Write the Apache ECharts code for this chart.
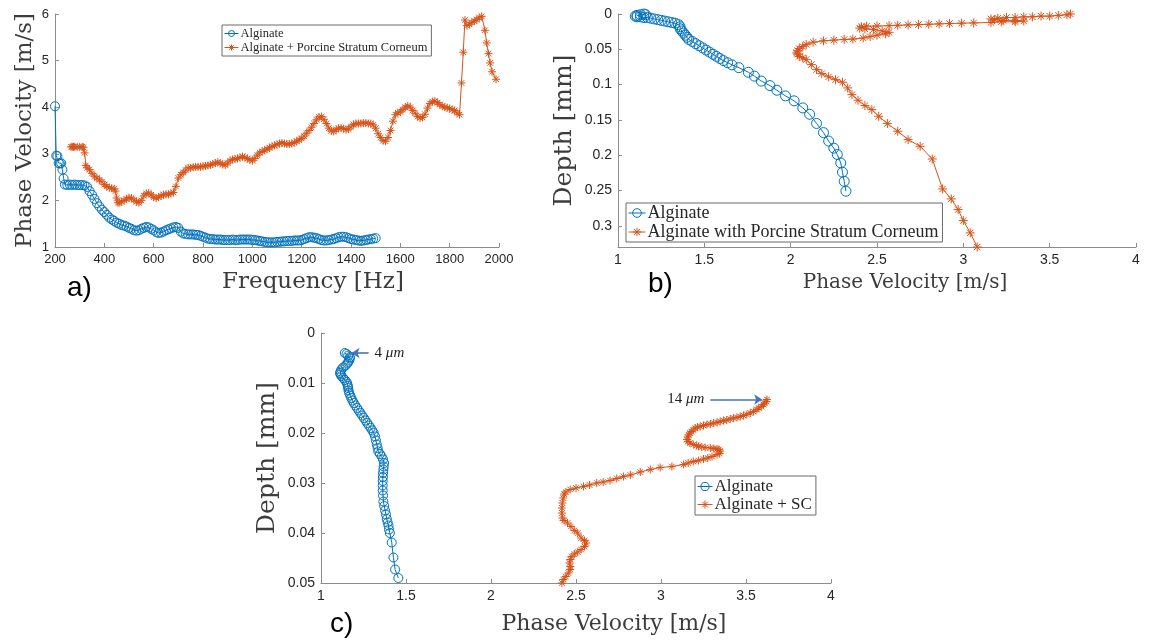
<!DOCTYPE html>
<html>
<head>
<meta charset="utf-8">
<script src="https://cdn.jsdelivr.net/npm/echarts@6/dist/echarts.min.js"></script>
<style>
html, body { margin: 0; padding: 0; background: #fff; }
#chart { width: 1149px; height: 641px; }
</style>
</head>
<body>
<div id="chart"></div>
<script>
// a) phase velocity vs frequency : [Hz, m/s]
var aAlginate = [
	[200,4.02],[205,2.96],[210,2.95],[215,2.80],[220,2.79],[225,2.80],[230,2.66],[235,2.47],[240,2.34],
	[250,2.33],[260,2.34],[270,2.33],[280,2.34],[290,2.33],[300,2.33],[310,2.33],[320,2.32],[330,2.29],
	[340,2.20],[350,2.12],[360,2.03],[370,1.94],[380,1.87],[390,1.80],[400,1.75],[410,1.69],[420,1.63],
	[430,1.59],[440,1.56],[450,1.52],[460,1.50],[470,1.47],[480,1.46],[490,1.44],[500,1.41],[510,1.39],
	[520,1.36],[530,1.35],[540,1.36],[550,1.39],[560,1.41],[570,1.43],[580,1.42],[590,1.39],[600,1.36],
	[610,1.32],[620,1.30],[630,1.31],[640,1.33],[650,1.36],[660,1.38],[670,1.40],[680,1.42],[690,1.43],
	[700,1.41],[710,1.33],[720,1.29],[730,1.28],[740,1.27],[750,1.27],[760,1.27],[770,1.26],[780,1.26],
	[790,1.24],[800,1.22],[810,1.20],[820,1.18],[830,1.17],[840,1.17],[850,1.16],[860,1.16],[870,1.16],
	[880,1.15],[890,1.15],[900,1.15],[910,1.15],[920,1.16],[930,1.15],[940,1.15],[950,1.16],[960,1.16],
	[970,1.16],[980,1.16],[990,1.16],[1000,1.15],[1010,1.15],[1020,1.14],[1030,1.13],[1040,1.12],
	[1050,1.11],[1060,1.10],[1070,1.10],[1080,1.10],[1090,1.10],[1100,1.11],[1110,1.11],[1120,1.12],
	[1130,1.12],[1140,1.13],[1150,1.13],[1160,1.13],[1170,1.14],[1180,1.14],[1190,1.14],[1200,1.15],
	[1210,1.17],[1220,1.19],[1230,1.21],[1240,1.21],[1250,1.20],[1260,1.19],[1270,1.17],[1280,1.15],
	[1290,1.14],[1300,1.14],[1310,1.15],[1320,1.16],[1330,1.17],[1340,1.19],[1350,1.21],[1360,1.22],
	[1370,1.22],[1380,1.21],[1390,1.19],[1400,1.17],[1410,1.16],[1420,1.15],[1430,1.14],[1440,1.13],
	[1450,1.14],[1460,1.15],[1470,1.16],[1480,1.17],[1490,1.18],[1500,1.19]
];
var aWithSC = [
	[265,3.15],[270,3.15],[275,3.15],[280,3.15],[290,3.15],[300,3.15],[310,3.15],[315,3.14],[320,3.02],
	[325,2.75],[330,2.70],[340,2.66],[350,2.58],[360,2.52],[370,2.48],[380,2.44],[390,2.40],[400,2.34],
	[410,2.30],[420,2.27],[430,2.26],[440,2.25],[445,2.20],[450,2.05],[455,1.95],[460,1.95],[470,1.97],
	[480,2.00],[490,2.03],[500,2.06],[510,2.05],[520,2.01],[530,1.97],[540,1.95],[550,2.00],[560,2.10],
	[570,2.15],[580,2.16],[590,2.12],[600,2.07],[610,2.05],[620,2.07],[630,2.10],[640,2.12],[650,2.13],
	[660,2.13],[670,2.15],[680,2.17],[690,2.30],[700,2.48],[710,2.55],[720,2.60],[730,2.65],[740,2.70],
	[750,2.70],[760,2.71],[770,2.72],[780,2.72],[790,2.72],[800,2.73],[810,2.74],[820,2.75],[830,2.76],
	[840,2.78],[850,2.80],[860,2.82],[870,2.80],[880,2.77],[890,2.76],[900,2.80],[910,2.85],[920,2.88],
	[930,2.89],[940,2.90],[950,2.92],[960,2.94],[970,2.92],[980,2.90],[990,2.87],[1000,2.85],[1010,2.90],
	[1020,2.97],[1030,3.02],[1040,3.05],[1050,3.08],[1060,3.10],[1070,3.13],[1080,3.16],[1090,3.18],
	[1100,3.20],[1110,3.22],[1120,3.23],[1130,3.22],[1140,3.21],[1150,3.21],[1160,3.22],[1170,3.24],
	[1180,3.27],[1190,3.30],[1200,3.33],[1210,3.38],[1220,3.44],[1230,3.50],[1240,3.57],[1250,3.65],
	[1260,3.73],[1270,3.79],[1280,3.80],[1290,3.74],[1300,3.65],[1310,3.55],[1320,3.49],[1330,3.48],
	[1340,3.52],[1350,3.55],[1360,3.55],[1370,3.54],[1380,3.52],[1390,3.53],[1400,3.58],[1410,3.63],
	[1420,3.65],[1430,3.65],[1440,3.65],[1450,3.66],[1460,3.66],[1470,3.65],[1480,3.65],[1490,3.62],
	[1500,3.55],[1510,3.43],[1520,3.35],[1530,3.28],[1540,3.27],[1550,3.35],[1560,3.50],[1570,3.70],
	[1580,3.84],[1590,3.88],[1600,3.90],[1610,3.95],[1620,4.00],[1630,4.03],[1640,4.00],[1650,3.93],
	[1660,3.87],[1670,3.80],[1680,3.77],[1690,3.78],[1700,3.85],[1710,3.98],[1720,4.08],[1730,4.12],
	[1740,4.13],[1750,4.10],[1760,4.06],[1770,4.02],[1780,4.00],[1790,3.99],[1800,3.97],[1810,3.95],
	[1820,3.93],[1830,3.88],[1840,3.84],[1848,4.52],[1855,5.18],[1862,5.87],[1870,5.75],[1880,5.78],
	[1890,5.82],[1900,5.85],[1910,5.88],[1920,5.92],[1930,5.95],[1943,5.65],[1950,5.38],[1957,5.15],
	[1964,4.95],[1972,4.76],[1988,4.60]
];

// b) depth profile : [m/s, mm]
var bAlginate = [
	[1.16,0.001],[1.15,0.000],[1.13,0.001],[1.11,0.002],[1.10,0.003],[1.11,0.004],[1.13,0.004],[1.15,0.005],
	[1.17,0.005],[1.19,0.006],[1.21,0.007],[1.23,0.008],[1.25,0.009],[1.27,0.010],[1.29,0.011],[1.31,0.012],
	[1.33,0.013],[1.35,0.015],[1.36,0.018],[1.36,0.021],[1.37,0.024],[1.38,0.027],[1.39,0.030],[1.40,0.033],
	[1.41,0.036],[1.43,0.039],[1.45,0.042],[1.47,0.045],[1.49,0.048],[1.51,0.051],[1.53,0.054],[1.55,0.057],
	[1.57,0.060],[1.59,0.063],[1.61,0.066],[1.635,0.069],[1.66,0.072],[1.70,0.076],[1.755,0.0825],
	[1.79,0.088],[1.83,0.095],[1.88,0.1014],[1.92,0.108],[1.97,0.116],[2.02,0.123],[2.07,0.133],
	[2.11,0.142],[2.15,0.155],[2.19,0.168],[2.22,0.180],[2.25,0.190],[2.27,0.199],[2.29,0.211],
	[2.30,0.224],[2.31,0.237],[2.32,0.251]
];
var bWithSC = [
	[3.62,0.000],[3.60,0.001],[3.55,0.002],[3.50,0.003],[3.45,0.003],[3.40,0.004],[3.35,0.004],[3.30,0.005],
	[3.25,0.005],[3.20,0.006],[3.16,0.007],[3.18,0.008],[3.23,0.009],[3.30,0.009],[3.35,0.010],[3.30,0.011],
	[3.22,0.011],[3.16,0.012],[3.06,0.0126],[2.99,0.013],[2.92,0.0135],[2.86,0.014],[2.80,0.0145],
	[2.74,0.015],[2.68,0.0155],[2.62,0.016],[2.57,0.0165],[2.50,0.017],[2.44,0.0172],[2.41,0.018],
	[2.40,0.020],[2.43,0.021],[2.48,0.022],[2.53,0.024],[2.57,0.026],[2.55,0.028],[2.50,0.030],
	[2.46,0.032],[2.42,0.034],[2.36,0.0355],[2.31,0.036],[2.25,0.037],[2.19,0.038],[2.13,0.040],
	[2.09,0.043],[2.07,0.046],[2.05,0.049],[2.04,0.052],[2.035,0.055],[2.04,0.057],[2.05,0.060],
	[2.07,0.062],[2.09,0.0646],[2.12,0.0717],[2.15,0.0788],[2.18,0.0844],[2.22,0.089],[2.26,0.093],
	[2.30,0.0967],[2.33,0.1047],[2.355,0.1142],[2.39,0.1222],[2.43,0.1297],[2.47,0.1354],[2.51,0.1449],
	[2.56,0.1552],[2.62,0.1661],[2.68,0.1779],[2.75,0.1874],[2.82,0.2053],[2.88,0.2478],[2.93,0.2619],
	[2.97,0.277],[3.00,0.2926],[3.04,0.31],[3.08,0.33]
];

// c) zoom on the first 50 um : [m/s, mm]
var cAlginate = [
	[1.14,0.0040],[1.15,0.0042],[1.16,0.0045],[1.17,0.0048],[1.17,0.0051],[1.165,0.0055],[1.16,0.0058],
	[1.155,0.0061],[1.145,0.0065],[1.13,0.0069],[1.12,0.0073],[1.115,0.0077],[1.112,0.008],[1.115,0.0083],
	[1.12,0.0086],[1.13,0.009],[1.14,0.0094],[1.15,0.0098],[1.155,0.0102],[1.158,0.0106],[1.16,0.011],
	[1.162,0.0115],[1.166,0.012],[1.172,0.0125],[1.178,0.013],[1.185,0.0135],[1.193,0.014],[1.202,0.0145],
	[1.212,0.015],[1.222,0.0155],[1.232,0.016],[1.242,0.0165],[1.252,0.017],[1.262,0.0175],[1.272,0.018],
	[1.282,0.0185],[1.292,0.019],[1.302,0.0195],[1.31,0.020],[1.318,0.0207],[1.323,0.0215],[1.328,0.0223],
	[1.333,0.023],[1.337,0.0237],[1.347,0.0242],[1.357,0.0247],[1.365,0.0253],[1.371,0.026],[1.369,0.0267],
	[1.367,0.0273],[1.365,0.028],[1.364,0.0288],[1.363,0.0296],[1.363,0.0305],[1.363,0.0315],[1.365,0.0325],
	[1.367,0.0337],[1.372,0.0346],[1.377,0.0355],[1.382,0.0363],[1.387,0.0372],[1.392,0.0379],[1.397,0.0385],
	[1.40,0.0393],[1.405,0.040],[1.416,0.0419],[1.426,0.0449],[1.436,0.0473],[1.455,0.049]
];
var cWithSC = [
	[3.623,0.0133],[3.62,0.0137],[3.61,0.014],[3.603,0.0143],[3.59,0.0147],[3.575,0.015],[3.564,0.0153],
	[3.545,0.0157],[3.525,0.016],[3.505,0.0163],[3.485,0.0165],[3.466,0.0167],[3.447,0.0169],[3.427,0.017],
	[3.407,0.0172],[3.387,0.0174],[3.368,0.0175],[3.348,0.0177],[3.33,0.0179],[3.31,0.018],[3.29,0.0182],
	[3.27,0.0183],[3.25,0.0185],[3.23,0.0187],[3.215,0.0188],[3.201,0.019],[3.19,0.0194],[3.178,0.0197],
	[3.17,0.020],[3.163,0.0204],[3.157,0.0208],[3.153,0.0213],[3.158,0.0217],[3.17,0.022],[3.19,0.0223],
	[3.21,0.0225],[3.221,0.0227],[3.24,0.0228],[3.26,0.0229],[3.29,0.023],[3.31,0.0231],[3.33,0.0232],
	[3.34,0.0233],[3.348,0.0236],[3.345,0.0241],[3.33,0.0243],[3.30,0.0247],[3.275,0.025],[3.25,0.0252],
	[3.22,0.0255],[3.19,0.0257],[3.16,0.026],[3.133,0.0263],[3.064,0.0267],[2.995,0.0269],[2.937,0.0273],
	[2.878,0.0278],[2.82,0.0284],[2.779,0.0287],[2.74,0.0291],[2.70,0.0295],[2.66,0.0298],[2.622,0.030],
	[2.58,0.0304],[2.544,0.0307],[2.50,0.031],[2.466,0.0313],[2.44,0.0318],[2.43,0.0322],[2.425,0.033],
	[2.42,0.034],[2.417,0.035],[2.417,0.036],[2.42,0.037],[2.43,0.0375],[2.45,0.038],[2.47,0.0387],
	[2.49,0.0395],[2.51,0.040],[2.53,0.041],[2.55,0.0415],[2.56,0.042],[2.55,0.0427],[2.53,0.0433],
	[2.51,0.0438],[2.49,0.0442],[2.475,0.0447],[2.466,0.0453],[2.462,0.046],[2.466,0.0467],[2.466,0.0473],
	[2.455,0.048],[2.44,0.0487],[2.425,0.0493],[2.417,0.05]
];

var BLUE = '#0072BD';
var ORANGE = '#D95319';
var ASTERISK = 'path://M5,0L5,10M0,5L10,5M1.5,1.5L8.5,8.5M1.5,8.5L8.5,1.5';
var SERIF = 'DejaVu Serif';

function axisBase(fs) {
	return {
		axisLine: { onZero: false, lineStyle: { color: '#8c8c8c', width: 1 } },
		axisTick: { inside: true, length: 4, lineStyle: { color: '#8c8c8c' } },
		axisLabel: { color: '#262626', fontSize: fs, fontFamily: 'Liberation Sans', margin: 6,
			formatter: function (v) { return String(+v.toFixed(4)); } },
		splitLine: { show: false },
		nameLocation: 'middle'
	};
}
function ax(fs, extra) {
	return Object.assign(axisBase(fs), extra);
}
function nameStyle(fs, padLeft) {
	return { fontFamily: SERIF, fontSize: fs, color: '#3c3c3c', padding: [0, 0, 0, padLeft || 0] };
}

function circleSeries(name, data, idx, size) {
	return {
		name: name, type: 'line', xAxisIndex: idx, yAxisIndex: idx, data: data,
		symbol: 'circle', symbolSize: size, showAllSymbol: true,
		lineStyle: { color: BLUE, width: 1 },
		itemStyle: { color: 'rgba(255,255,255,0)', borderColor: BLUE, borderWidth: 1 },
		emphasis: { disabled: true }
	};
}
function starSeries(name, data, idx, size) {
	return {
		name: name, type: 'line', xAxisIndex: idx, yAxisIndex: idx, data: data,
		symbol: ASTERISK, symbolSize: size, showAllSymbol: true,
		lineStyle: { color: ORANGE, width: 1 },
		itemStyle: { color: ORANGE, borderColor: ORANGE, borderWidth: 1 },
		emphasis: { disabled: true }
	};
}
function legendBox(left, top, names, fs, iw, pad) {
	return {
		left: left, top: top, orient: 'vertical', data: names, selectedMode: false,
		itemWidth: iw, itemHeight: fs * 0.6, itemGap: 1, padding: pad,
		borderColor: '#6b6b6b', borderWidth: 1, borderRadius: 0, backgroundColor: '#fff',
		itemStyle: { borderWidth: 1 },
		lineStyle: { width: 1 },
		textStyle: { fontFamily: 'Liberation Serif', fontSize: fs, color: '#262626', padding: [0, 0, 0, -3] }
	};
}

var chart = echarts.init(document.getElementById('chart'), null, { renderer: 'canvas' });

// arrows of panel c
var arrowC = {
	silent: true, symbol: ['none', 'arrow'], symbolSize: 8, animation: false,
	lineStyle: { color: '#4472C4', width: 1.6, type: 'solid' },
	emphasis: { disabled: true }
};
var muRich = {
	n: { fontFamily: 'Liberation Serif', fontSize: 15, color: '#222' },
	i: { fontFamily: 'Liberation Serif', fontStyle: 'italic', fontSize: 15, color: '#222' }
};

var sC1 = circleSeries('Alginate', cAlginate, 2, 9);
sC1.markLine = Object.assign({}, arrowC, {
	label: { show: true, position: 'start', distance: 6, formatter: '{n|4 }{i|μm}', rich: muRich },
	data: [[{ coord: [1.28, 0.004] }, { coord: [1.18, 0.004] }]]
});
var sC2 = starSeries('Alginate + SC', cWithSC, 2, 8);
sC2.markLine = Object.assign({}, arrowC, {
	label: { show: true, position: 'start', distance: 6, formatter: '{n|14 }{i|μm}', rich: muRich },
	data: [[{ coord: [3.29, 0.0133] }, { coord: [3.595, 0.0133] }]]
});

var option = {
	animation: false,
	backgroundColor: '#fff',
	grid: [
		{ left: 55, top: 14, width: 444, height: 233, outerBoundsMode: 'none' },
		{ left: 618, top: 14, width: 518, height: 233, outerBoundsMode: 'none' },
		{ left: 321, top: 333, width: 510, height: 250, outerBoundsMode: 'none' }
	],
	xAxis: [
		ax(13, { gridIndex: 0, type: 'value', min: 200, max: 2000, interval: 200,
			name: 'Frequency [Hz]', nameGap: 24, nameTextStyle: nameStyle(23, 72) }),
		ax(14, { gridIndex: 1, type: 'value', min: 1, max: 4, interval: 0.5,
			name: 'Phase Velocity [m/s]', nameGap: 26, nameTextStyle: nameStyle(20, 56) }),
		ax(14, { gridIndex: 2, type: 'value', min: 1, max: 4, interval: 0.5,
			name: 'Phase Velocity [m/s]', nameGap: 30, nameTextStyle: nameStyle(22, 76) })
	],
	yAxis: [
		ax(13, { gridIndex: 0, type: 'value', min: 1, max: 6, interval: 1,
			name: 'Phase Velocity [m/s]', nameGap: 18, nameTextStyle: nameStyle(23) }),
		ax(14, { gridIndex: 1, type: 'value', min: 0, max: 0.33, interval: 0.05, inverse: true,
			name: 'Depth [mm]', nameGap: 41, nameTextStyle: nameStyle(25) }),
		ax(14, { gridIndex: 2, type: 'value', min: 0, max: 0.05, interval: 0.01, inverse: true,
			name: 'Depth [mm]', nameGap: 41, nameTextStyle: nameStyle(25) })
	],
	legend: [
		legendBox(222, 25, ['Alginate', 'Alginate + Porcine Stratum Corneum'], 12.5, 14, [2, 4, 2, 2]),
		legendBox(626, 203, ['Alginate', 'Alginate with Porcine Stratum Corneum'], 18, 17, [1, 4, 1, 2]),
		legendBox(695, 476, ['Alginate', 'Alginate + SC'], 17, 15, [2, 4, 2, 2])
	],
	graphic: [
		{ type: 'text', left: 67, top: 274, style: { text: 'a)', fontFamily: 'Liberation Sans', fontSize: 28, fill: '#000' } },
		{ type: 'text', left: 648, top: 270, style: { text: 'b)', fontFamily: 'Liberation Sans', fontSize: 28, fill: '#000' } },
		{ type: 'text', left: 330, top: 610, style: { text: 'c)', fontFamily: 'Liberation Sans', fontSize: 28, fill: '#000' } }
	],
	series: [
		circleSeries('Alginate', aAlginate, 0, 9),
		starSeries('Alginate + Porcine Stratum Corneum', aWithSC, 0, 8),
		circleSeries('Alginate', bAlginate, 1, 10),
		starSeries('Alginate with Porcine Stratum Corneum', bWithSC, 1, 9),
		sC1,
		sC2
	]
};
option.yAxis[1].axisLabel.showMaxLabel = false;

chart.setOption(option);
</script>
</body>
</html>
